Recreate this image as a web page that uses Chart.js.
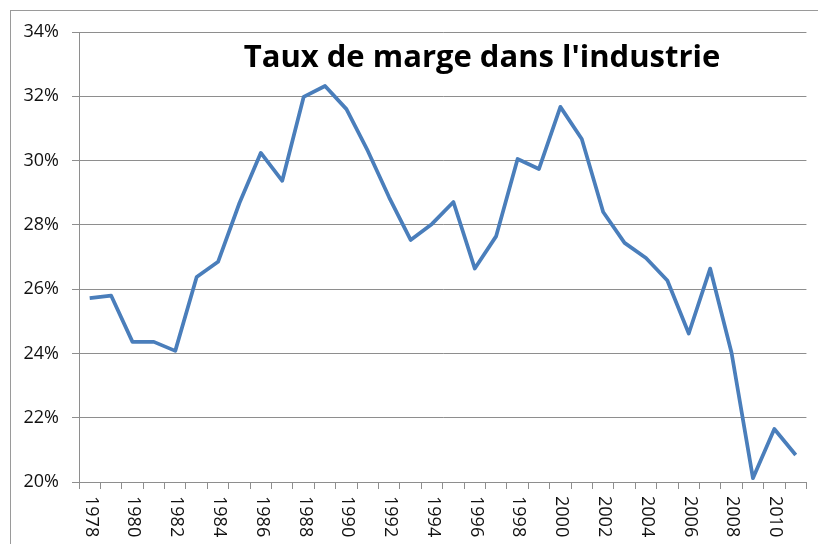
<!DOCTYPE html>
<html>
<head>
<meta charset="utf-8">
<script src="https://cdn.jsdelivr.net/npm/chart.js@4"></script>
<style>
  body { margin: 0; background: #fff; }
  canvas { display: block; }
</style>
</head>
<body>
<canvas id="margeChart" width="818" height="544"></canvas>
<script>
/* ==================== DATA ==================== */
const years = ['1978','1979','1980','1981','1982','1983','1984','1985','1986','1987',
  '1988','1989','1990','1991','1992','1993','1994','1995','1996','1997',
  '1998','1999','2000','2001','2002','2003','2004','2005','2006','2007',
  '2008','2009','2010','2011'];
// taux de marge (%)
const margin = [25.72, 25.8, 24.36, 24.36, 24.08, 26.38, 26.85, 28.68, 30.24, 29.37,
  31.98, 32.32, 31.6, 30.3, 28.85, 27.53, 28.03, 28.71, 26.64, 27.65,
  30.05, 29.74, 31.67, 30.67, 28.4, 27.44, 26.97, 26.27, 24.62, 26.64,
  24.02, 20.12, 21.65, 20.84];
const yMin = 20, yMax = 34, yStep = 2;
const title = "Taux de marge dans l'industrie";

const gridGray = '#8e8e8e';
const textColor = '#111';
const font = '"Open Sans", "Liberation Sans", sans-serif';

/* ==================== PLUGINS ==================== */
// outer chart frame, like the Excel chart area
const frame = {
  id: 'frame',
  beforeDraw(chart) {
    const ctx = chart.ctx;
    ctx.save();
    ctx.fillStyle = '#fff';
    ctx.fillRect(0, 0, chart.width, chart.height);
    ctx.strokeStyle = '#9a9a9a';
    ctx.lineWidth = 1;
    ctx.strokeRect(10.5, 10.5, chart.width + 20, chart.height + 20);
    ctx.restore();
  }
};

// year labels read top-to-bottom (Chart.js rotates the other way)
const yearLabels = {
  id: 'yearLabels',
  afterDraw(chart) {
    const ctx = chart.ctx, x = chart.scales.x;
    ctx.save();
    ctx.fillStyle = textColor;
    ctx.font = '18px ' + font;
    ctx.textAlign = 'left';
    ctx.textBaseline = 'middle';
    years.forEach((y, i) => {
      if (i % 2) return;
      ctx.save();
      ctx.translate(x.getPixelForValue(i) + 1, x.top + 14);
      ctx.rotate(Math.PI / 2);
      ctx.fillText(y, 0, 0);
      ctx.restore();
    });
    ctx.restore();
  }
};

// title sits inside the plot area
const innerTitle = {
  id: 'innerTitle',
  afterDraw(chart) {
    const ctx = chart.ctx;
    ctx.save();
    ctx.fillStyle = '#000';
    ctx.font = 'bold 31px ' + font;
    ctx.textAlign = 'center';
    ctx.textBaseline = 'middle';
    ctx.fillText(title, 482, 58);
    ctx.restore();
  }
};

/* ==================== CHART ==================== */
new Chart(document.getElementById('margeChart'), {
  type: 'line',
  data: {
    labels: years,
    datasets: [{
      label: title,
      data: margin,
      borderColor: '#4a7ebb',
      borderWidth: 3.75,
      borderJoinStyle: 'round',
      pointRadius: 0,
      tension: 0,
      fill: false
    }]
  },
  options: {
    responsive: false,
    animation: false,
    layout: { padding: { top: 32, right: 5, left: 0, bottom: 0 } },
    plugins: { legend: { display: false }, title: { display: false }, tooltip: { enabled: false } },
    scales: {
      x: {
        offset: true,
        grid: { offset: true, drawOnChartArea: false, color: gridGray, tickLength: 7 },
        border: { color: gridGray },
        ticks: {
          autoSkip: false, minRotation: 90, maxRotation: 90,
          color: 'rgba(0,0,0,0)', font: { size: 16 },
          callback: (v, i) => (i % 2 ? '' : years[i])
        },
        afterFit: s => { s.height = 62; }
      },
      y: {
        min: yMin, max: yMax,
        grid: { color: gridGray, tickLength: 7 },
        border: { color: gridGray },
        ticks: {
          stepSize: yStep, padding: 13, color: textColor,
          font: { size: 18, family: font },
          callback: v => v + '%'
        },
        afterFit: s => { s.width = 79; }
      }
    }
  },
  plugins: [frame, yearLabels, innerTitle]
});
</script>
</body>
</html>
